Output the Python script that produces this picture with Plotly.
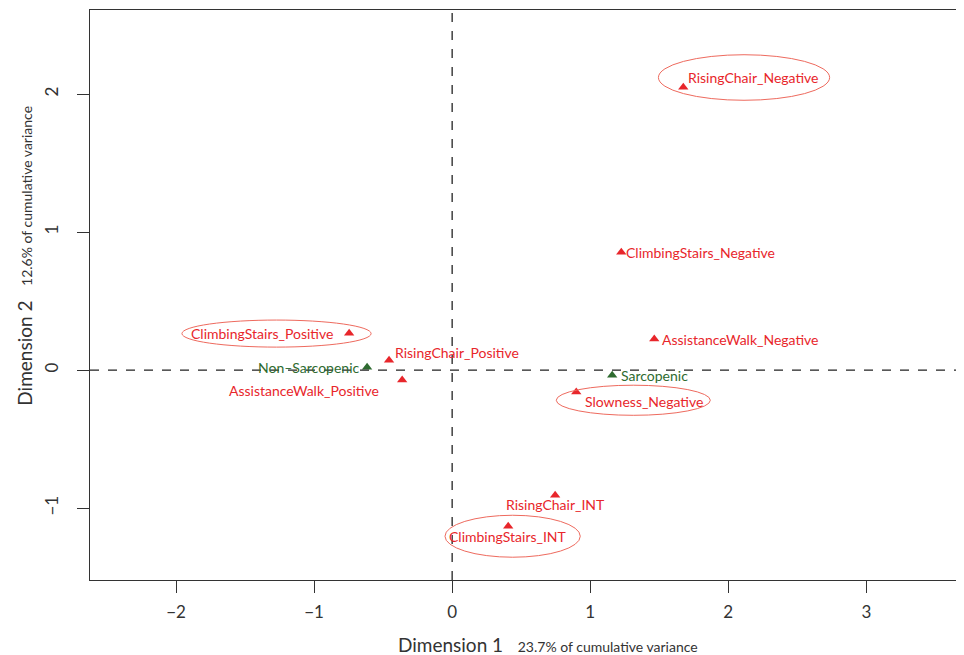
import plotly.graph_objects as go

# ---- data ----
categories = ["RisingChair_Negative", "ClimbingStairs_Negative", "AssistanceWalk_Negative",
              "Slowness_Negative", "RisingChair_INT", "ClimbingStairs_INT",
              "ClimbingStairs_Positive", "RisingChair_Positive", "AssistanceWalk_Positive"]
dim1 = [1.674, 1.225, 1.464, 0.899, 0.746, 0.406, -0.746, -0.457, -0.362]
dim2 = [2.05, 0.855, 0.225, -0.159, -0.906, -1.13, 0.268, 0.072, -0.072]

groups = ["Sarcopenic", "Non\u2013Sarcopenic"]
g_dim1 = [1.159, -0.616]
g_dim2 = [-0.036, 0.022]

highlighted = ["RisingChair_Negative", "ClimbingStairs_Positive", "Slowness_Negative", "ClimbingStairs_INT"]

x_ticks = [-2, -1, 0, 1, 2, 3]
y_ticks = [-1, 0, 1, 2]

RED = "#E8262B"
GREEN = "#2E6B30"
FONT = "Lato"
TITLE_FONT = "Lato"

# label placement (styling): xanchor, xshift, yshift in px
label_style = {
    "RisingChair_Negative": ("left", 3, 10),
    "ClimbingStairs_Negative": ("left", 3, 0),
    "AssistanceWalk_Negative": ("left", 6, 0),
    "Slowness_Negative": ("left", 7, -9),
    "RisingChair_INT": ("center", 0, -9),
    "ClimbingStairs_INT": ("center", 0, -10),
    "ClimbingStairs_Positive": ("right", -14, 0),
    "RisingChair_Positive": ("left", 4, 8),
    "AssistanceWalk_Positive": ("right", -21, -10),
    "Sarcopenic": ("left", 7, 0),
    "Non\u2013Sarcopenic": ("right", -5, 0),
}
# ellipse (styling): center offset from point (data units) and half-sizes
ellipse_style = {
    "RisingChair_Negative": (0.44, 0.07, 0.62, 0.165),
    "ClimbingStairs_Positive": (-0.526, -0.003, 0.685, 0.098),
    "Slowness_Negative": (0.413, -0.059, 0.558, 0.109),
    "ClimbingStairs_INT": (0.032, -0.073, 0.49, 0.152),
}

fig = go.Figure()
fig.add_trace(go.Scatter(x=dim1, y=dim2, mode="markers",
                         marker=dict(symbol="triangle-up", size=9, color=RED),
                         hoverinfo="text", text=categories))
fig.add_trace(go.Scatter(x=g_dim1, y=g_dim2, mode="markers",
                         marker=dict(symbol="triangle-up", size=9, color=GREEN),
                         hoverinfo="text", text=groups))

annotations = []
for name, x, y in zip(categories, dim1, dim2):
    xa, xs, ys = label_style[name]
    annotations.append(dict(x=x, y=y, text=name, showarrow=False, xanchor=xa, yanchor="middle",
                            xshift=xs, yshift=ys, font=dict(family=FONT, size=14, color=RED)))
for name, x, y in zip(groups, g_dim1, g_dim2):
    xa, xs, ys = label_style[name]
    annotations.append(dict(x=x, y=y, text=name, showarrow=False, xanchor=xa, yanchor="middle",
                            xshift=xs, yshift=ys, font=dict(family=FONT, size=14, color=GREEN)))

# axis titles
annotations.append(dict(xref="paper", yref="paper", x=0.525, y=0, yshift=-64, xanchor="center",
                        yanchor="middle", showarrow=False,
                        text="Dimension 1   <span style='font-size:14px'>23.7% of cumulative variance</span>",
                        font=dict(family=TITLE_FONT, size=19, color="#333333")))
annotations.append(dict(xref="paper", yref="paper", x=0, xshift=-65, y=0.569, yanchor="middle",
                        xanchor="center", showarrow=False, textangle=-90,
                        text="Dimension 2   <span style='font-size:14px'>12.6% of cumulative variance</span>",
                        font=dict(family=TITLE_FONT, size=19, color="#333333")))

shapes = []
shapes.append(dict(type="line", xref="x", yref="paper", x0=0, x1=0, y0=0, y1=1,
                   line=dict(color="#222222", width=1.3, dash="dash")))
shapes.append(dict(type="line", xref="paper", yref="y", x0=0, x1=1, y0=0, y1=0,
                   line=dict(color="#222222", width=1.3, dash="dash")))
for name in highlighted:
    i = categories.index(name)
    dx, dy, rx, ry = ellipse_style[name]
    cx, cy = dim1[i] + dx, dim2[i] + dy
    shapes.append(dict(type="circle", xref="x", yref="y", x0=cx - rx, x1=cx + rx,
                       y0=cy - ry, y1=cy + ry, line=dict(color="#EE6A5E", width=1)))

# page body has an 8px default margin: size the figure to fit the window
fig.update_layout(
    width=956, height=647,
    margin=dict(l=82, r=1, t=2, b=75),
    plot_bgcolor="white", paper_bgcolor="white",
    showlegend=False,
    annotations=annotations, shapes=shapes,
    font=dict(family=FONT, color="#333333"),
)
fig.update_xaxes(range=[-2.623, 3.70], tickvals=x_ticks, ticks="outside", ticklen=12,
                 tickcolor="#333333", showgrid=False, zeroline=False, showline=True,
                 linecolor="#333333", linewidth=1.3, mirror=True, ticklabelstandoff=4,
                 tickfont=dict(family=FONT, size=17, color="#333333"))
fig.update_yaxes(range=[-1.52, 2.609], tickvals=y_ticks, ticks="outside", ticklen=12,
                 tickcolor="#333333", showgrid=False, zeroline=False, showline=True,
                 linecolor="#333333", linewidth=1.3, mirror=True, tickangle=-90,
                 ticklabelstandoff=12,
                 tickfont=dict(family=FONT, size=17, color="#333333"))

fig.write_html("out.html")
